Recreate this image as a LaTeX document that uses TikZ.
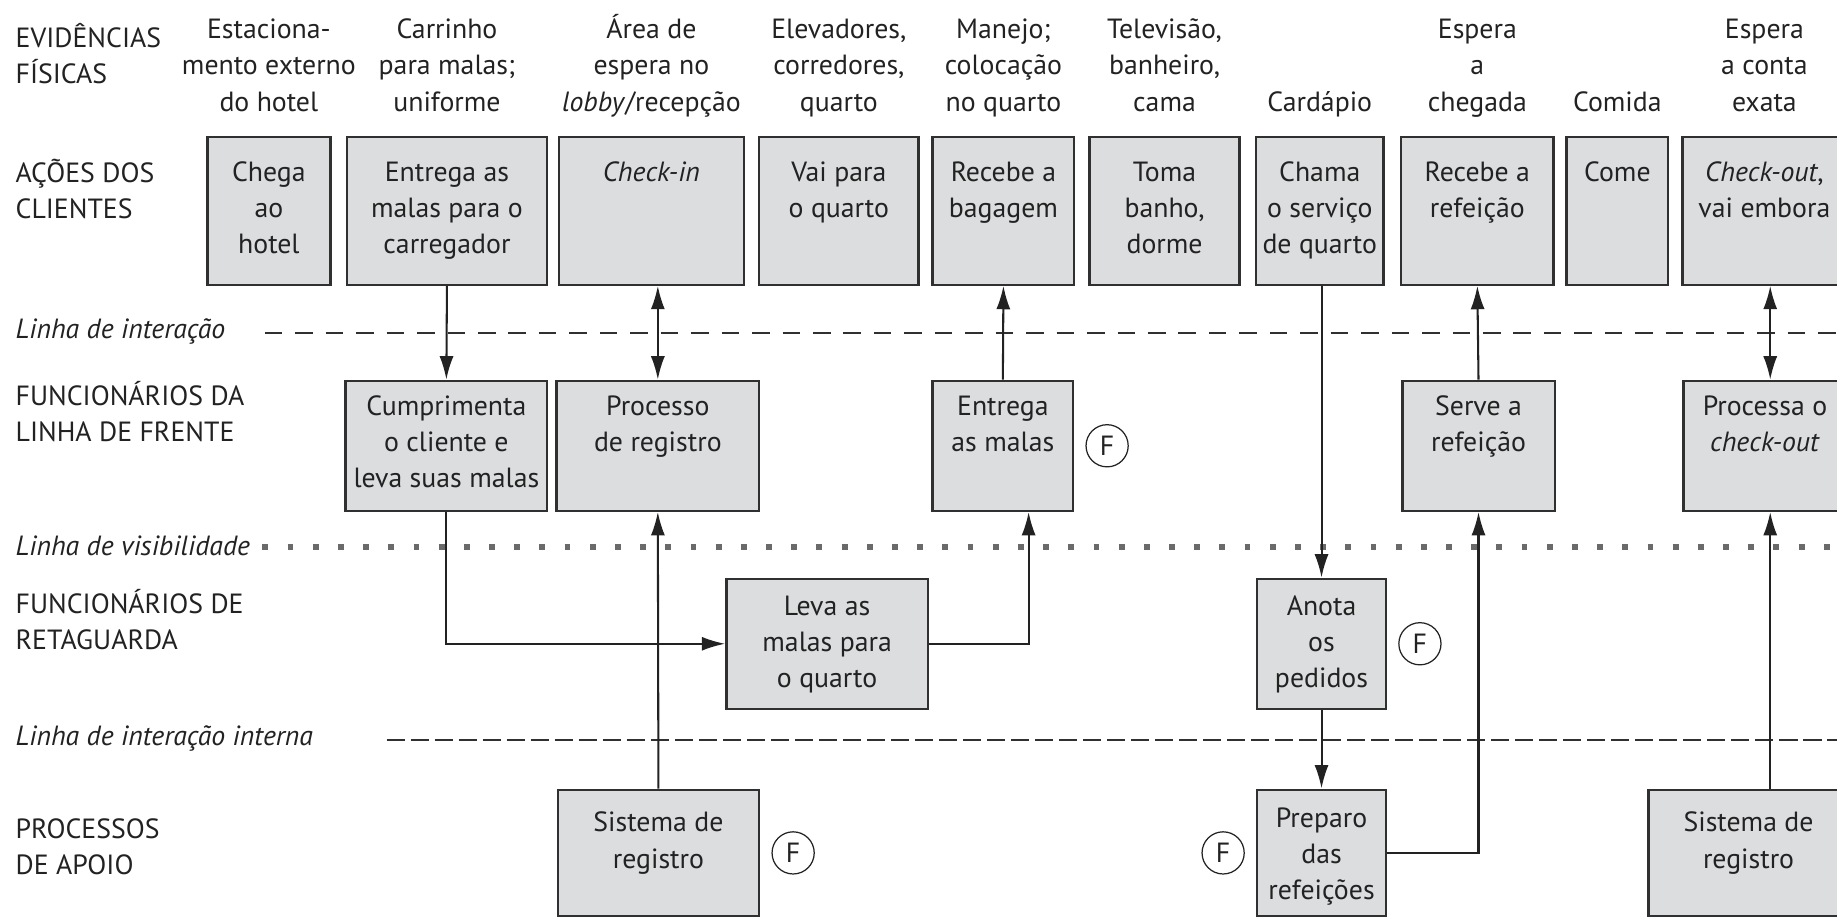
\documentclass[tikz,border=0pt]{standalone}
\usepackage{fontspec}
\setmainfont{PT Sans}
\usetikzlibrary{arrows.meta,positioning,fit}
\definecolor{boxfill}{HTML}{DCDDDF}
\definecolor{boxline}{HTML}{303030}
\definecolor{ink}{HTML}{222222}
\definecolor{dotgray}{HTML}{6A6A6A}

\begin{document}
\begin{tikzpicture}[x=0.02cm, y=-0.02cm,
  >={Latex[length=0.4cm, width=0.24cm]},
  font=\fontsize{13.5}{17.6}\selectfont, text=ink,
  box/.style={draw=boxline, fill=boxfill, line width=1.1pt, inner sep=0pt},
  txt/.style={align=center, inner sep=0pt},
  head/.style={txt, anchor=north},
  lane/.style={align=left, anchor=west, inner sep=0pt},
  fmark/.style={circle, draw=ink, line width=0.6pt, minimum size=0.72cm, inner sep=0pt},
  link/.style={draw=ink, line width=1pt},
  interaction/.style={draw=boxline, line width=1pt, dash pattern=on 0.3cm off 0.22cm},
  visibility/.style={draw=dotgray, line width=0.1cm, dash pattern=on 0.1cm off 0.33cm},
  internal/.style={draw=boxline, line width=1pt, dash pattern=on 0.31cm off 0.1cm}]
  \useasboundingbox (0,0) rectangle (1568,784);
  \clip (0,0) rectangle (1568,784);
  \coordinate (hrow) at (0,11);
  \coordinate (hlast) at (0,73);
  \coordinate (colr) at (1511,0);

  % lanes
  \node (lane1) [lane] at (13,46) {EVIDÊNCIAS\\FÍSICAS};
  \node (lane2) [lane] at (13,161) {AÇÕES DOS\\CLIENTES};
  \node (lane3) [lane] at (13,283) {\textit{Linha de interação}};
  \node (lane4) [lane] at (13,351) {FUNCIONÁRIOS DA\\LINHA DE FRENTE};
  \node (lane5) [lane] at (13,466) {\textit{Linha de visibilidade}};
  \node (lane6) [lane] at (13,529) {FUNCIONÁRIOS DE\\RETAGUARDA};
  \node (lane7) [lane] at (13,630) {\textit{Linha de interação interna}};
  \node (lane8) [lane] at (13,723) {PROCESSOS\\DE APOIO};

  \draw[interaction] (226,284) -- (1568,284);
  \draw[visibility] (224,467) -- (1568,467);
  \draw[internal] (330,632) -- (1568,632);

  % clientes
  \node (chega) [box, fit={(177,117) (282,243)}] {};
  \node (entrega) [box, fit={(296,117) (467,243)}] {};
  \node (checkin) [box, fit={(477,117) (635,243)}] {};
  \node (vai) [box, fit={(648,117) (784,243)}] {};
  \node (recbag) [box, fit={(796,117) (917,243)}] {};
  \node (toma) [box, fit={(930,117) (1058,243)}] {};
  \node (chama) [box, fit={(1072,117) (1181,243)}] {};
  \node (recref) [box, fit={(1196,117) (1326,243)}] {};
  \node (come) [box, fit={(1337,117) (1424,243)}] {};
  \node (checkout) [box, fit={(1436,117) (1576,243)}] {};

  \node (chega-t) [txt, below=0.33cm of chega.north] {\strut Chega\\ao\\hotel};
  \node (entrega-t) [txt, below=0.33cm of entrega.north] {\strut Entrega as\\malas para o\\carregador};
  \node (checkin-t) [txt, below=0.33cm of checkin.north] {\strut\textit{Check-in}};
  \node (vai-t) [txt, below=0.33cm of vai.north] {\strut Vai para\\o quarto};
  \node (recbag-t) [txt, below=0.33cm of recbag.north] {\strut Recebe a\\bagagem};
  \node (toma-t) [txt, below=0.33cm of toma.north] {\strut Toma\\banho,\\dorme};
  \node (chama-t) [txt, below=0.33cm of chama.north] {\strut Chama\\o serviço\\de quarto};
  \node (recref-t) [txt, below=0.33cm of recref.north] {\strut Recebe a\\refeição};
  \node (come-t) [txt, below=0.33cm of come.north] {\strut Come};
  \node (checkout-t) [txt, below=0.33cm of checkout.north] {\strut\textit{Check-out},\\vai embora};

  % evidencias
  \node (ev1) [head] at (chega.north |- hrow) {\strut Estaciona-\\mento externo\\do hotel};
  \node (ev2) [head] at (entrega.north |- hrow) {\strut Carrinho\\para malas;\\uniforme};
  \node (ev3) [head] at (checkin.north |- hrow) {\strut Área de\\espera no\\\textit{lobby}/recepção};
  \node (ev4) [head] at (vai.north |- hrow) {\strut Elevadores,\\corredores,\\quarto};
  \node (ev5) [head] at (recbag.north |- hrow) {\strut Manejo;\\colocação\\no quarto};
  \node (ev6) [head] at (toma.north |- hrow) {\strut Televisão,\\banheiro,\\cama};
  \node (ev7) [head] at (chama.north |- hlast) {\strut Cardápio};
  \node (ev8) [head] at (recref.north |- hrow) {\strut Espera\\a\\chegada};
  \node (ev9) [head] at (come.north |- hlast) {\strut Comida};
  \node (ev10) [head] at (checkout.north |- hrow) {\strut Espera\\a conta\\exata};

  % linha de frente
  \node (cumpr) [box, fit={(295,325) (467,436)}] {};
  \node (registro) [box, fit={(475,325) (648,436)}] {};
  \node (entmalas) [box, fit={(796,325) (916,436)}] {};
  \node (serve) [box, fit={(1197,325) (1327,436)}] {};
  \node (processa) [box, fit={(1437,325) (1576,436)}] {};

  \node (cumpr-t) [txt, below=0.17cm of cumpr.north] {\strut Cumprimenta\\o cliente e\\leva suas malas};
  \node (registro-t) [txt, below=0.17cm of registro.north] {\strut Processo\\de registro};
  \node (entmalas-t) [txt, below=0.17cm of entmalas.north] {\strut Entrega\\as malas};
  \node (serve-t) [txt, below=0.17cm of serve.north] {\strut Serve a\\refeição};
  \node (processa-t) [txt, below=0.17cm of processa.north] {\strut Processa o\\\textit{check-out}};

  % retaguarda
  \node (leva) [box, fit={(620,494) (792,605)}] {};
  \node (anota) [box, fit={(1073,494) (1183,605)}] {};
  \node (leva-t) [txt, below=0.2cm of leva.north] {\strut Leva as\\malas para\\o quarto};
  \node (anota-t) [txt, below=0.2cm of anota.north] {\strut Anota\\os\\pedidos};

  % apoio
  \node (sistema) [box, fit={(476,674) (648,782)}] {};
  \node (preparo) [box, fit={(1073,674) (1183,782)}] {};
  \node (sistema2) [box, fit={(1407,674) (1578,782)}] {};
  \node (sistema-t) [txt, below=0.3cm of sistema.north] {\strut Sistema de\\registro};
  \node (preparo-t) [txt, below=0.22cm of preparo.north] {\strut Preparo\\das\\refeições};
  \node (sistema2-t) [txt, below=0.3cm of sistema2.north] {\strut Sistema de\\registro};

  \node (f1) [fmark, right=0.19cm of entmalas] {F};
  \node (f2) [fmark, right=0.19cm of anota] {F};
  \node (f3) [fmark, right=0.19cm of sistema] {F};
  \node (f4) [fmark, left=0.19cm of preparo] {F};

  \draw[->, link] (entrega.south) -- (cumpr.north);
  \draw[<->, link] (registro.north |- checkin.south) -- (registro.north);
  \draw[->, link] (entmalas.north) -- (recbag.south);
  \draw[->, link] (chama.south -| anota.north) -- (anota.north);
  \draw[->, link] (serve.north) -- (recref.south);
  \draw[<->, link] (checkout.south -| colr) -- (processa.north -| colr);
  \draw[->, link] (cumpr.south) |- (leva.west);
  \draw[->, link] (leva.east) -| ([xshift=0.44cm]entmalas.south);
  \draw[->, link] (sistema.north) -- (registro.south);
  \draw[->, link] (anota.south) -- (preparo.north);
  \draw[->, link] (preparo.east) -| (serve.south);
  \draw[->, link] (sistema2.north -| colr) -- (processa.south -| colr);
\end{tikzpicture}
\end{document}
